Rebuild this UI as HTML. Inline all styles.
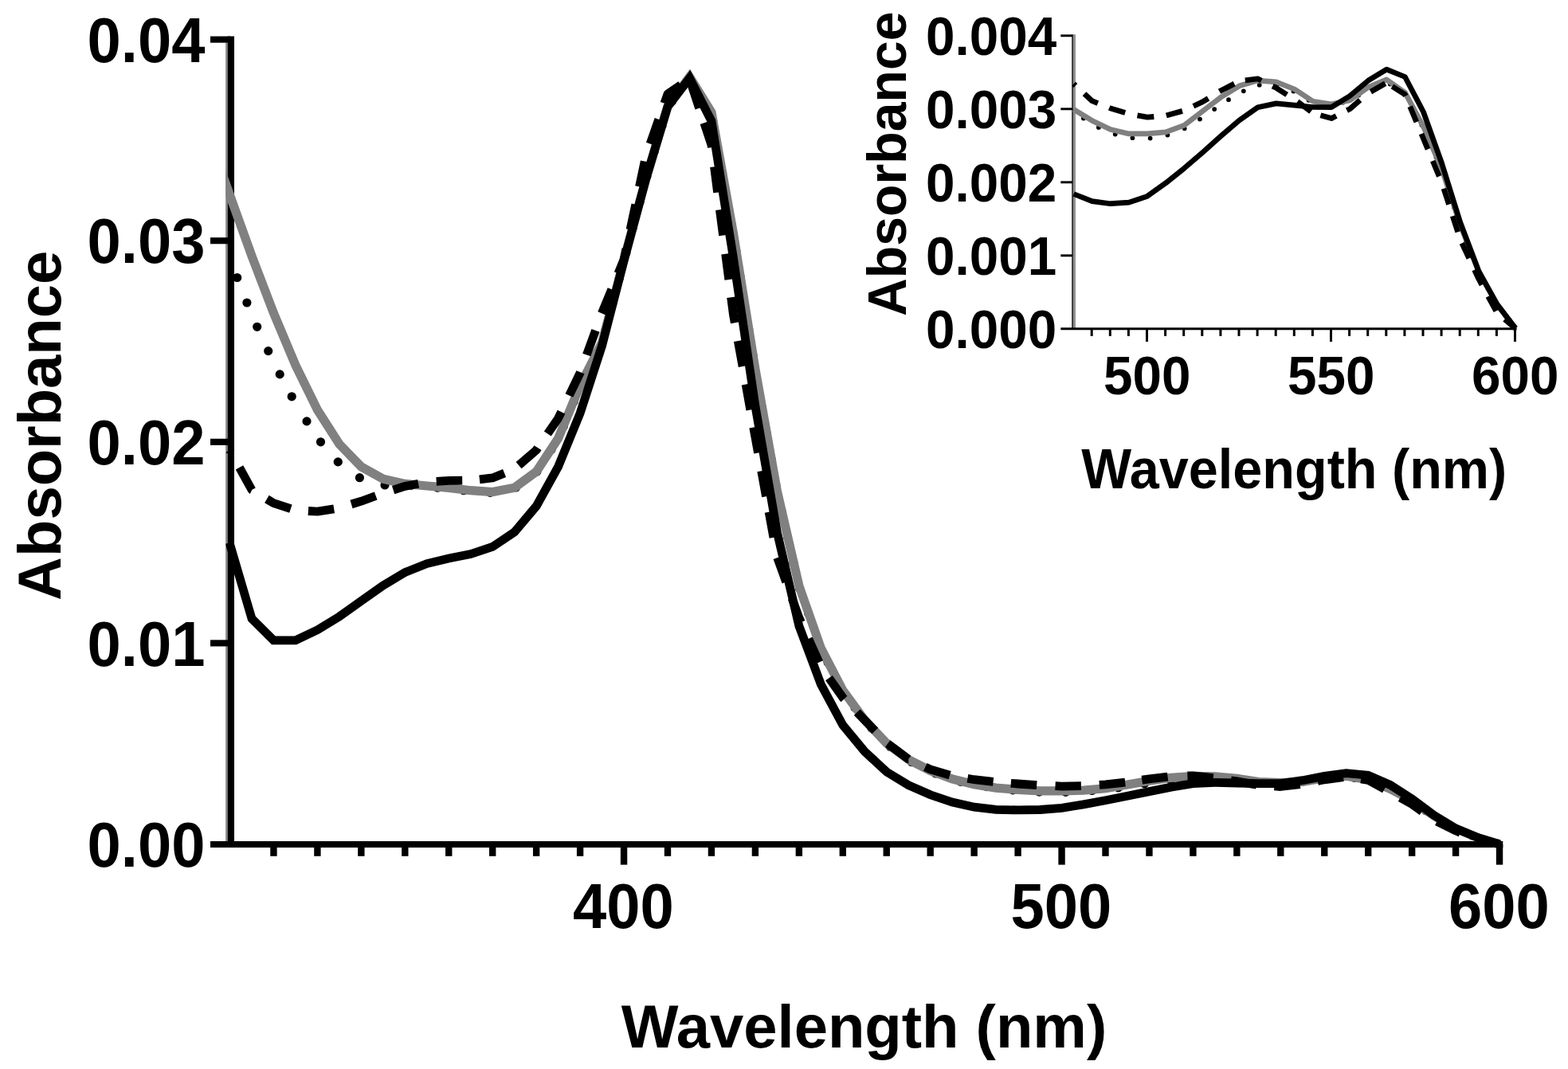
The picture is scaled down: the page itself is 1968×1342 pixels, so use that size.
<!DOCTYPE html>
<html lang="en">
<head>
<meta charset="utf-8">
<title>Absorbance vs Wavelength (nm)</title>
<style>
html,body{margin:0;padding:0;background:#fff;}
body{width:1968px;height:1342px;overflow:hidden;}
svg{display:block;}
svg text{font-family:"Liberation Sans", "DejaVu Sans", sans-serif;font-weight:700;fill:#000;}
</style>
</head>
<body>
<svg xmlns="http://www.w3.org/2000/svg" width="1968" height="1342" viewBox="0 0 1968 1342">
<rect x="0" y="0" width="1968" height="1342" fill="#fff"/>
<g id="main-axes">
<rect x="283.1" y="53.5" width="2.7" height="1006.5" fill="#8a8a8a"/>
<rect x="285.7" y="45.5" width="8.3" height="1014.5" fill="#000"/>
<line x1="264.00" y1="1060.00" x2="1886.30" y2="1060.00" stroke="#000" stroke-width="8.1"/>
<line x1="264.00" y1="807.40" x2="288.50" y2="807.40" stroke="#000" stroke-width="8.1"/>
<line x1="264.00" y1="554.80" x2="288.50" y2="554.80" stroke="#000" stroke-width="8.1"/>
<line x1="264.00" y1="302.20" x2="288.50" y2="302.20" stroke="#000" stroke-width="8.1"/>
<line x1="264.00" y1="49.60" x2="288.50" y2="49.60" stroke="#000" stroke-width="8.1"/>
<line x1="343.45" y1="1060.00" x2="343.45" y2="1074.80" stroke="#000" stroke-width="8.4"/>
<line x1="398.40" y1="1060.00" x2="398.40" y2="1074.80" stroke="#000" stroke-width="8.4"/>
<line x1="453.35" y1="1060.00" x2="453.35" y2="1074.80" stroke="#000" stroke-width="8.4"/>
<line x1="508.30" y1="1060.00" x2="508.30" y2="1074.80" stroke="#000" stroke-width="8.4"/>
<line x1="563.25" y1="1060.00" x2="563.25" y2="1074.80" stroke="#000" stroke-width="8.4"/>
<line x1="618.20" y1="1060.00" x2="618.20" y2="1074.80" stroke="#000" stroke-width="8.4"/>
<line x1="673.15" y1="1060.00" x2="673.15" y2="1074.80" stroke="#000" stroke-width="8.4"/>
<line x1="728.10" y1="1060.00" x2="728.10" y2="1074.80" stroke="#000" stroke-width="8.4"/>
<line x1="783.05" y1="1060.00" x2="783.05" y2="1085.60" stroke="#000" stroke-width="8.4"/>
<line x1="838.00" y1="1060.00" x2="838.00" y2="1074.80" stroke="#000" stroke-width="8.4"/>
<line x1="892.95" y1="1060.00" x2="892.95" y2="1074.80" stroke="#000" stroke-width="8.4"/>
<line x1="947.90" y1="1060.00" x2="947.90" y2="1074.80" stroke="#000" stroke-width="8.4"/>
<line x1="1002.85" y1="1060.00" x2="1002.85" y2="1074.80" stroke="#000" stroke-width="8.4"/>
<line x1="1057.80" y1="1060.00" x2="1057.80" y2="1074.80" stroke="#000" stroke-width="8.4"/>
<line x1="1112.75" y1="1060.00" x2="1112.75" y2="1074.80" stroke="#000" stroke-width="8.4"/>
<line x1="1167.70" y1="1060.00" x2="1167.70" y2="1074.80" stroke="#000" stroke-width="8.4"/>
<line x1="1222.65" y1="1060.00" x2="1222.65" y2="1074.80" stroke="#000" stroke-width="8.4"/>
<line x1="1277.60" y1="1060.00" x2="1277.60" y2="1074.80" stroke="#000" stroke-width="8.4"/>
<line x1="1332.55" y1="1060.00" x2="1332.55" y2="1085.60" stroke="#000" stroke-width="8.4"/>
<line x1="1387.50" y1="1060.00" x2="1387.50" y2="1074.80" stroke="#000" stroke-width="8.4"/>
<line x1="1442.45" y1="1060.00" x2="1442.45" y2="1074.80" stroke="#000" stroke-width="8.4"/>
<line x1="1497.40" y1="1060.00" x2="1497.40" y2="1074.80" stroke="#000" stroke-width="8.4"/>
<line x1="1552.35" y1="1060.00" x2="1552.35" y2="1074.80" stroke="#000" stroke-width="8.4"/>
<line x1="1607.30" y1="1060.00" x2="1607.30" y2="1074.80" stroke="#000" stroke-width="8.4"/>
<line x1="1662.25" y1="1060.00" x2="1662.25" y2="1074.80" stroke="#000" stroke-width="8.4"/>
<line x1="1717.20" y1="1060.00" x2="1717.20" y2="1074.80" stroke="#000" stroke-width="8.4"/>
<line x1="1772.15" y1="1060.00" x2="1772.15" y2="1074.80" stroke="#000" stroke-width="8.4"/>
<line x1="1827.10" y1="1060.00" x2="1827.10" y2="1074.80" stroke="#000" stroke-width="8.4"/>
<line x1="1882.05" y1="1060.00" x2="1882.05" y2="1085.60" stroke="#000" stroke-width="8.4"/>
</g>
<g id="main-labels">
<text x="0" y="0" font-size="76" text-anchor="end" transform="translate(257.50 1088.20) scale(1.0 1.045)">0.00</text>
<text x="0" y="0" font-size="76" text-anchor="end" transform="translate(257.50 835.60) scale(1.0 1.045)">0.01</text>
<text x="0" y="0" font-size="76" text-anchor="end" transform="translate(257.50 583.00) scale(1.0 1.045)">0.02</text>
<text x="0" y="0" font-size="76" text-anchor="end" transform="translate(257.50 330.40) scale(1.0 1.045)">0.03</text>
<text x="0" y="0" font-size="76" text-anchor="end" transform="translate(257.50 77.80) scale(1.0 1.045)">0.04</text>
<text x="0" y="0" font-size="76" text-anchor="middle" transform="translate(782.35 1164.60) scale(1.0 1.045)">400</text>
<text x="0" y="0" font-size="76" text-anchor="middle" transform="translate(1331.85 1164.60) scale(1.0 1.045)">500</text>
<text x="0" y="0" font-size="76" text-anchor="middle" transform="translate(1881.35 1164.60) scale(1.0 1.045)">600</text>
<text x="0" y="0" font-size="76" text-anchor="middle" transform="translate(1084.50 1314.90) scale(1.0 1.0)">Wavelength (nm)</text>
<text x="0" y="0" font-size="76" text-anchor="middle" transform="translate(75.50 534.30) rotate(-90) scale(1.0 1.0)">Absorbance</text>
</g>
<clipPath id="mclip"><rect x="283.4" y="0" width="1620" height="1070"/></clipPath>
<g id="main-curves" clip-path="url(#mclip)">
<path d="M297.6,348.5 L297.7,348.5 M309.9,380.0 L309.9,380.0 M322.7,410.3 L322.7,410.3 M336.7,440.6 L336.7,440.6 M351.2,469.9 L351.2,469.9 M366.2,497.8 L366.2,497.9 M385.0,528.9 L385.0,528.9 M402.5,554.8 L402.5,554.9 M424.2,579.9 L424.3,579.9 M451.4,599.7 L451.4,599.7 M483.0,609.0 L483.0,609.0 M516.1,609.2 L516.1,609.2 M549.2,612.2 L549.2,612.2 M582.1,615.7 L582.2,615.7 M615.2,618.4 L615.2,618.4 M647.4,612.0 L647.5,612.0 M673.9,592.0 L673.9,592.0 M692.1,564.3 L692.1,564.3 M707.4,535.1 L707.4,535.0 M720.1,504.4 L720.1,504.4 M733.6,474.1 L733.6,474.1 M748.7,444.6 L748.7,444.5 M760.2,413.6 L760.2,413.6 M768.8,381.6 L768.8,381.6 M777.3,349.5 L777.3,349.5 M785.9,317.5 L785.9,317.5 M794.5,285.4 L794.5,285.4 M803.1,253.4 L803.1,253.4 M811.9,221.4 L811.9,221.4 M821.4,189.6 L821.5,189.6 M831.0,157.9 L831.0,157.8 M843.2,127.4 L843.3,127.4 M863.0,100.8 L863.0,100.8 M880.7,122.2 L880.8,122.2 M894.7,151.8 L894.7,151.8 M900.6,184.4 L900.6,184.4 M906.5,217.1 L906.6,217.1 M912.5,249.7 L912.5,249.7 M918.4,282.4 L918.4,282.4 M923.9,315.1 L923.9,315.1 M929.1,347.8 L929.2,347.9 M934.4,380.6 L934.4,380.6 M939.7,413.4 L939.7,413.4 M945.0,446.1 L945.0,446.1 M950.5,478.8 L950.5,478.8 M956.4,511.5 L956.4,511.5 M962.2,544.1 L962.2,544.2 M968.1,576.8 L968.1,576.8 M973.9,609.5 L973.9,609.5 M981.0,641.9 L981.0,641.9 M988.5,674.2 L988.5,674.2 M995.9,706.5 L995.9,706.5 M1003.6,738.8 L1003.7,738.8 M1014.6,770.1 L1014.7,770.1 M1025.6,801.4 L1025.6,801.4 M1039.1,831.6 L1039.1,831.6 M1054.4,861.0 L1054.4,861.1 M1073.1,888.4 L1073.1,888.4 M1093.9,914.1 L1093.9,914.1 M1117.4,937.5 L1117.4,937.5 M1144.4,956.6 L1144.4,956.7 M1174.3,971.0 L1174.3,971.0 M1205.8,981.3 L1205.8,981.3 M1238.3,987.6 L1238.3,987.6 M1271.2,991.8 L1271.2,991.8 M1304.3,994.1 L1304.3,994.1 M1337.5,994.3 L1337.5,994.3 M1370.6,992.5 L1370.6,992.5 M1403.5,988.8 L1403.6,988.8 M1436.3,983.7 L1436.4,983.7 M1469.1,978.8 L1469.2,978.8 M1502.2,975.9 L1502.2,975.9 M1535.3,976.7 L1535.3,976.7 M1568.3,980.5 L1568.3,980.5 M1601.3,982.9 L1601.3,982.9 M1634.4,981.3 L1634.4,981.3 M1667.3,977.0 L1667.3,977.0 M1700.3,976.5 L1700.3,976.5 M1731.9,985.5 L1732.0,985.5 M1761.8,999.9 L1761.8,999.9 M1789.7,1017.7 L1789.7,1017.7 M1817.9,1035.2 L1817.9,1035.2 M1847.9,1049.1 L1847.9,1049.1 M1879.5,1059.1 L1879.6,1059.1" fill="none" stroke="#000" stroke-width="11.2" stroke-linecap="round" stroke-linejoin="round"/>
<path d="M276.5,211.6 L288.5,245.0 L316.0,321.4 L343.4,393.0 L370.9,458.4 L398.4,514.5 L425.9,557.6 L453.4,586.0 L480.8,601.1 L508.3,607.4 L535.8,610.0 L563.2,612.4 L590.7,615.7 L618.2,617.6 L645.7,612.3 L673.2,592.1 L700.6,550.4 L728.1,484.0 L755.6,430.0 L783.0,327.0 L810.5,225.0 L838.0,133.5 L865.5,96.5 L893.0,141.0 L920.4,292.7 L947.9,463.2 L975.4,616.5 L1002.9,735.5 L1030.3,813.7 L1057.8,866.5 L1085.3,904.0 L1112.8,933.0 L1140.2,953.5 L1167.7,967.6 L1195.2,977.9 L1222.7,984.8 L1250.1,989.1 L1277.6,991.3 L1305.1,992.8 L1332.5,992.8 L1360.0,992.2 L1387.5,989.8 L1415.0,985.0 L1442.5,980.2 L1469.9,976.3 L1497.4,974.4 L1524.9,974.9 L1552.4,977.4 L1579.8,981.6 L1607.3,982.6 L1634.8,981.3 L1662.2,976.8 L1689.7,974.1 L1717.2,978.6 L1744.7,990.3 L1772.2,1004.9 L1799.6,1024.1 L1827.1,1040.3 L1854.6,1051.5 L1882.1,1059.8" fill="none" stroke="#808080" stroke-width="11.2" stroke-linecap="butt" stroke-linejoin="miter" stroke-miterlimit="6"/>
<path d="M288.5,565.0 L289.6,567.1 M300.5,586.8 L316.0,615.0 L316.2,615.1 M334.9,626.5 L343.4,631.6 L364.9,638.6 M386.9,641.5 L398.4,642.2 L419.2,638.8 M441.0,633.0 L453.4,629.2 L471.7,622.5 M493.6,615.1 L508.3,610.4 L525.1,607.2 M547.7,604.4 L563.2,603.4 L580.2,603.2 M601.9,601.8 L618.2,599.9 L633.1,593.9 M651.1,584.1 L673.2,565.0 L675.0,562.2 M687.3,544.5 L700.6,525.2 L704.5,517.1 M714.4,496.5 L728.1,468.2 L728.5,467.2 M736.3,445.5 L747.5,414.9 M755.3,393.3 L755.6,392.6 L767.7,363.2 M775.9,343.2 L783.0,326.0 L785.9,312.4 M791.0,288.4 L797.8,256.6 M802.5,234.3 L809.2,202.5 M816.1,180.6 L826.8,149.9 M833.9,129.7 L838.0,118.0 L854.5,106.6 M867.4,104.9 L877.6,135.7 M883.8,154.2 L893.0,182.0 L893.4,185.2 M896.5,209.4 L900.6,241.6 M903.4,263.3 L907.6,295.5 M910.6,318.7 L914.8,351.0 M917.6,373.2 L920.4,394.9 L922.3,405.3 M926.3,428.0 L932.1,460.0 M936.1,482.5 L941.8,514.5 M945.7,536.5 L947.9,548.6 L951.5,568.5 M955.7,591.3 L961.5,623.3 M965.1,642.8 L970.9,674.8 M975.7,700.2 L986.7,730.7 M994.0,751.0 L1002.9,775.5 L1005.5,781.3 M1014.7,801.9 L1028.0,831.5 M1040.5,851.2 L1057.8,875.7 L1059.5,877.5 M1075.7,894.2 L1085.3,904.0 L1098.3,917.6 M1114.1,933.7 L1140.2,953.0 L1140.3,953.0 M1161.3,962.9 L1167.7,965.9 L1192.1,973.2 M1214.4,977.3 L1222.7,978.7 L1246.6,981.3 M1268.8,983.3 L1277.6,984.0 L1301.2,985.7 M1324.5,986.7 L1332.5,987.1 L1356.9,986.6 M1379.8,985.3 L1387.5,984.8 L1412.2,982.1 M1433.3,979.2 L1442.5,977.9 L1465.6,975.2 M1490.4,974.0 L1497.4,973.8 L1522.7,976.7 M1545.0,979.9 L1552.4,980.9 L1577.0,985.2 M1599.4,986.9 L1607.3,987.5 L1631.7,984.6 M1653.8,980.4 L1662.2,978.8 L1686.0,975.7 M1708.2,977.9 L1717.2,979.3 L1737.7,990.6 M1757.4,1001.4 L1772.2,1009.6 L1784.9,1018.7 M1803.5,1031.1 L1827.1,1042.8 L1832.8,1045.2 M1853.5,1054.0 L1854.6,1054.5 L1882.1,1059.8" fill="none" stroke="#000" stroke-width="10.8" stroke-linecap="butt" stroke-linejoin="round"/>
<path d="M288.0,681.3 L288.5,683.0 L316.0,776.6 L343.4,803.9 L370.9,803.9 L398.4,790.8 L425.9,774.0 L453.4,754.4 L480.8,735.0 L508.3,718.6 L535.8,707.6 L563.2,701.0 L590.7,695.6 L618.2,686.4 L645.7,667.9 L673.2,635.3 L700.6,585.8 L728.1,518.7 L755.6,434.0 L783.0,327.5 L810.5,225.5 L838.0,134.0 L865.5,98.0 L893.0,152.0 L920.4,323.5 L947.9,509.5 L975.4,668.4 L1002.9,786.0 L1030.3,859.0 L1057.8,910.3 L1085.3,943.5 L1112.8,969.0 L1140.2,985.6 L1167.7,997.8 L1195.2,1007.0 L1222.7,1013.2 L1250.1,1016.4 L1277.6,1016.9 L1305.1,1016.5 L1332.5,1014.3 L1360.0,1009.8 L1387.5,1004.7 L1415.0,999.2 L1442.5,993.6 L1469.9,988.1 L1497.4,983.7 L1524.9,982.3 L1552.4,983.0 L1579.8,983.6 L1607.3,983.6 L1634.8,979.7 L1662.2,974.4 L1689.7,970.6 L1717.2,973.2 L1744.7,985.2 L1772.2,1002.9 L1799.6,1023.3 L1827.1,1040.0 L1854.6,1051.5 L1882.1,1059.8" fill="none" stroke="#000" stroke-width="10.8" stroke-linecap="butt" stroke-linejoin="miter" stroke-miterlimit="6"/>
</g>
<g id="inset-axes">
<rect x="1345.1" y="43.3" width="2.5" height="369.5" fill="#3a3a3a"/>
<rect x="1347.6" y="43.3" width="2.4" height="369.5" fill="#929292"/>
<line x1="1331.30" y1="412.80" x2="1903.60" y2="412.80" stroke="#000" stroke-width="2.9"/>
<line x1="1331.30" y1="320.80" x2="1346.10" y2="320.80" stroke="#000" stroke-width="2.9"/>
<line x1="1331.30" y1="228.80" x2="1346.10" y2="228.80" stroke="#000" stroke-width="2.9"/>
<line x1="1331.30" y1="136.80" x2="1346.10" y2="136.80" stroke="#000" stroke-width="2.9"/>
<line x1="1331.30" y1="44.80" x2="1346.10" y2="44.80" stroke="#000" stroke-width="2.9"/>
<line x1="1370.20" y1="412.80" x2="1370.20" y2="421.90" stroke="#000" stroke-width="3.0"/>
<line x1="1393.30" y1="412.80" x2="1393.30" y2="421.90" stroke="#000" stroke-width="3.0"/>
<line x1="1416.40" y1="412.80" x2="1416.40" y2="421.90" stroke="#000" stroke-width="3.0"/>
<line x1="1439.50" y1="412.80" x2="1439.50" y2="429.00" stroke="#000" stroke-width="3.0"/>
<line x1="1462.60" y1="412.80" x2="1462.60" y2="421.90" stroke="#000" stroke-width="3.0"/>
<line x1="1485.70" y1="412.80" x2="1485.70" y2="421.90" stroke="#000" stroke-width="3.0"/>
<line x1="1508.80" y1="412.80" x2="1508.80" y2="421.90" stroke="#000" stroke-width="3.0"/>
<line x1="1531.90" y1="412.80" x2="1531.90" y2="421.90" stroke="#000" stroke-width="3.0"/>
<line x1="1555.00" y1="412.80" x2="1555.00" y2="421.90" stroke="#000" stroke-width="3.0"/>
<line x1="1578.10" y1="412.80" x2="1578.10" y2="421.90" stroke="#000" stroke-width="3.0"/>
<line x1="1601.20" y1="412.80" x2="1601.20" y2="421.90" stroke="#000" stroke-width="3.0"/>
<line x1="1624.30" y1="412.80" x2="1624.30" y2="421.90" stroke="#000" stroke-width="3.0"/>
<line x1="1647.40" y1="412.80" x2="1647.40" y2="421.90" stroke="#000" stroke-width="3.0"/>
<line x1="1670.50" y1="412.80" x2="1670.50" y2="429.00" stroke="#000" stroke-width="3.0"/>
<line x1="1693.60" y1="412.80" x2="1693.60" y2="421.90" stroke="#000" stroke-width="3.0"/>
<line x1="1716.70" y1="412.80" x2="1716.70" y2="421.90" stroke="#000" stroke-width="3.0"/>
<line x1="1739.80" y1="412.80" x2="1739.80" y2="421.90" stroke="#000" stroke-width="3.0"/>
<line x1="1762.90" y1="412.80" x2="1762.90" y2="421.90" stroke="#000" stroke-width="3.0"/>
<line x1="1786.00" y1="412.80" x2="1786.00" y2="421.90" stroke="#000" stroke-width="3.0"/>
<line x1="1809.10" y1="412.80" x2="1809.10" y2="421.90" stroke="#000" stroke-width="3.0"/>
<line x1="1832.20" y1="412.80" x2="1832.20" y2="421.90" stroke="#000" stroke-width="3.0"/>
<line x1="1855.30" y1="412.80" x2="1855.30" y2="421.90" stroke="#000" stroke-width="3.0"/>
<line x1="1878.40" y1="412.80" x2="1878.40" y2="421.90" stroke="#000" stroke-width="3.0"/>
<line x1="1901.50" y1="412.80" x2="1901.50" y2="429.00" stroke="#000" stroke-width="3.0"/>
</g>
<g id="inset-labels">
<text x="0" y="0" font-size="65.6" text-anchor="end" transform="translate(1326.20 436.80) scale(1.0 1.047)">0.000</text>
<text x="0" y="0" font-size="65.6" text-anchor="end" transform="translate(1326.20 344.80) scale(1.0 1.047)">0.001</text>
<text x="0" y="0" font-size="65.6" text-anchor="end" transform="translate(1326.20 252.80) scale(1.0 1.047)">0.002</text>
<text x="0" y="0" font-size="65.6" text-anchor="end" transform="translate(1326.20 160.80) scale(1.0 1.047)">0.003</text>
<text x="0" y="0" font-size="65.6" text-anchor="end" transform="translate(1326.20 68.80) scale(1.0 1.047)">0.004</text>
<text x="0" y="0" font-size="65.6" text-anchor="middle" transform="translate(1439.70 494.60) scale(1.0 1.047)">500</text>
<text x="0" y="0" font-size="65.6" text-anchor="middle" transform="translate(1670.70 494.60) scale(1.0 1.047)">550</text>
<text x="0" y="0" font-size="65.6" text-anchor="middle" transform="translate(1901.70 494.60) scale(1.0 1.047)">600</text>
<text x="0" y="0" font-size="66.6" text-anchor="middle" transform="translate(1624.30 613.30) scale(1.0 1.055)">Wavelength (nm)</text>
<text x="0" y="0" font-size="66.2" text-anchor="middle" transform="translate(1136.70 205.70) rotate(-90) scale(1.0 1.045)">Absorbance</text>
</g>
<g id="inset-curves">
<path d="M1359.9,148.5 L1359.9,148.5 M1378.9,159.9 L1378.9,159.9 M1399.7,168.5 L1399.7,168.5 M1421.4,173.2 L1421.4,173.2 M1443.6,173.6 L1443.6,173.6 M1465.4,169.6 L1465.4,169.6 M1486.7,161.3 L1486.7,161.3 M1505.9,149.6 L1506.0,149.6 M1524.2,137.1 L1524.2,137.1 M1542.0,125.2 L1542.0,125.2 M1560.8,114.3 L1560.8,114.3 M1580.7,106.7 L1580.7,106.7 M1602.8,106.4 L1602.8,106.4 M1623.5,114.5 L1623.5,114.5 M1642.6,125.8 L1642.6,125.8 M1663.7,131.7 L1663.7,131.7 M1685.2,128.7 L1685.2,128.7 M1705.2,119.5 L1705.2,119.5 M1724.8,109.2 L1724.8,109.2 M1744.7,105.5 L1744.7,105.6 M1763.0,118.2 L1763.0,118.2 M1773.7,137.5 L1773.8,137.6 M1784.4,157.0 L1784.4,157.1 M1793.6,177.2 L1793.6,177.3 M1802.5,197.6 L1802.5,197.6 M1811.0,218.1 L1811.0,218.1 M1817.9,239.2 L1817.9,239.2 M1824.9,260.3 L1824.9,260.3 M1831.8,281.4 L1831.8,281.4 M1839.9,302.1 L1839.9,302.1 M1848.1,322.7 L1848.1,322.7 M1856.5,343.2 L1856.5,343.3 M1867.4,362.6 L1867.4,362.6 M1878.3,381.9 L1878.3,381.9 M1891.9,399.4 L1892.0,399.4" fill="none" stroke="#000" stroke-width="5.8" stroke-linecap="round" stroke-linejoin="round"/>
<path d="M1347.6,137.3 L1370.7,151.4 L1393.8,162.6 L1416.9,167.9 L1440.0,167.9 L1463.1,165.9 L1486.2,157.3 L1509.3,139.6 L1532.4,122.0 L1555.5,107.8 L1578.6,101.1 L1601.7,102.8 L1624.8,112.0 L1647.9,127.2 L1671.0,130.8 L1694.1,126.0 L1717.2,109.6 L1740.3,99.9 L1763.4,116.2 L1786.5,159.0 L1809.6,212.0 L1832.7,282.0 L1855.8,341.0 L1878.9,382.0 L1902.0,412.1" fill="none" stroke="#808080" stroke-width="6.7" stroke-linecap="butt" stroke-linejoin="round" stroke-miterlimit="6"/>
<path d="M1347.6,105.3 L1349.9,107.5 M1361.0,117.7 L1370.7,126.7 L1377.9,129.6 M1392.2,135.3 L1393.8,136.0 L1412.2,141.6 M1427.5,144.9 L1440.0,147.2 L1448.3,146.5 M1463.8,145.0 L1484.0,139.4 M1497.9,133.3 L1509.3,127.9 L1516.5,123.5 M1530.5,114.8 L1532.4,113.7 L1549.2,105.1 M1562.8,100.9 L1578.6,98.9 L1583.2,101.2 M1597.2,108.1 L1601.7,110.3 L1615.2,118.8 M1628.5,127.5 L1645.3,140.1 M1657.4,144.7 L1671.0,148.6 L1677.1,145.5 M1690.5,138.6 L1694.1,136.8 L1707.0,125.7 M1720.4,115.2 L1738.7,104.8 M1747.4,108.5 L1763.4,118.7 L1764.2,120.5 M1769.7,133.7 L1777.8,153.1 M1784.0,168.0 L1786.5,174.0 L1792.1,187.4 M1798.2,202.0 L1806.3,221.4 M1812.0,236.7 L1818.5,256.6 M1823.2,271.3 L1829.7,291.3 M1834.9,305.2 L1843.8,324.3 M1850.6,338.8 L1855.8,350.0 L1859.9,357.6 M1867.7,372.1 L1877.7,390.5 M1888.5,400.8 L1902.0,412.1" fill="none" stroke="#000" stroke-width="6.8" stroke-linecap="butt" stroke-linejoin="round"/>
<path d="M1347.6,243.5 L1370.7,252.6 L1393.8,255.7 L1416.9,254.2 L1440.0,246.3 L1463.1,229.8 L1486.2,211.3 L1509.3,191.5 L1532.4,170.8 L1555.5,151.0 L1578.6,134.8 L1601.7,129.9 L1624.8,132.2 L1647.9,134.5 L1671.0,134.6 L1694.1,120.5 L1717.2,101.2 L1740.3,87.2 L1763.4,96.5 L1786.5,140.5 L1809.6,205.0 L1832.7,279.0 L1855.8,340.0 L1878.9,381.9 L1902.0,412.1" fill="none" stroke="#000" stroke-width="6.7" stroke-linecap="butt" stroke-linejoin="round" stroke-miterlimit="6"/>
</g>
</svg>
</body>
</html>
